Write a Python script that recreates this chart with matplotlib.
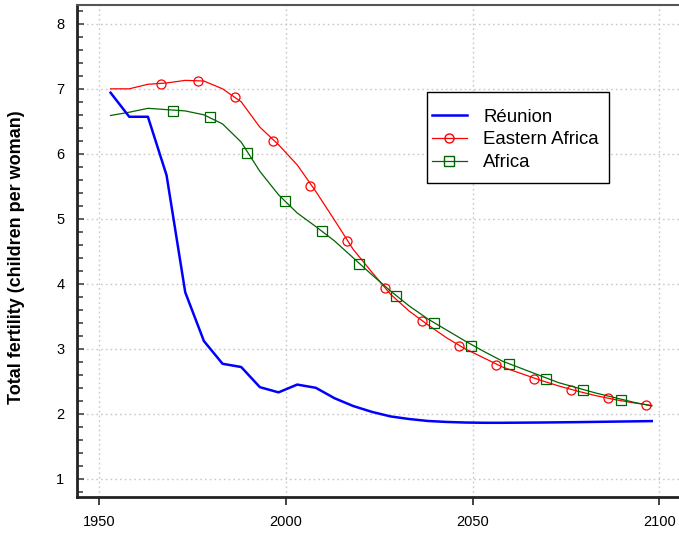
import matplotlib
matplotlib.use('Agg')
import matplotlib.pyplot as plt
from matplotlib.lines import Line2D
from matplotlib.patches import Rectangle
from matplotlib.ticker import MultipleLocator

plt.rcParams['font.family'] = ['Liberation Sans', 'DejaVu Sans']

# 5-year period midpoints
years = [1953, 1958, 1963, 1968, 1973, 1978, 1983, 1988, 1993, 1998,
         2003, 2008, 2013, 2018, 2023, 2028, 2033, 2038, 2043, 2048,
         2053, 2058, 2063, 2068, 2073, 2078, 2083, 2088, 2093, 2098]

reunion = [6.94, 6.57, 6.57, 5.67, 3.87, 3.12, 2.77, 2.72, 2.41, 2.33,
           2.45, 2.40, 2.24, 2.12, 2.03, 1.96, 1.92, 1.89, 1.875, 1.866,
           1.862, 1.862, 1.864, 1.866, 1.869, 1.872, 1.876, 1.880, 1.884, 1.888]

eastern_africa = [7.00, 7.00, 7.07, 7.09, 7.13, 7.12, 7.00, 6.80, 6.41, 6.14,
                  5.83, 5.42, 4.98, 4.53, 4.18, 3.84, 3.58, 3.37, 3.17, 3.00,
                  2.86, 2.72, 2.62, 2.52, 2.43, 2.35, 2.28, 2.22, 2.17, 2.13]

africa = [6.59, 6.64, 6.70, 6.68, 6.66, 6.60, 6.46, 6.18, 5.73, 5.37,
          5.09, 4.88, 4.66, 4.40, 4.14, 3.89, 3.66, 3.46, 3.29, 3.12,
          2.96, 2.81, 2.70, 2.59, 2.48, 2.40, 2.32, 2.25, 2.18, 2.12]

# marker positions as drawn in the picture
ea_mark_x = [1966.4, 1976.4, 1986.4, 1996.4, 2006.4, 2016.4, 2026.4, 2036.4,
             2046.4, 2056.4, 2066.4, 2076.4, 2086.4, 2096.4]
ea_mark_y = [7.08, 7.12, 6.88, 6.20, 5.51, 4.66, 3.94, 3.43,
             3.05, 2.75, 2.54, 2.37, 2.24, 2.14]
af_mark_x = [1969.6, 1979.6, 1989.6, 1999.7, 2009.6, 2019.6, 2029.6, 2039.6,
             2049.6, 2059.7, 2069.7, 2079.7, 2089.7]
af_mark_y = [6.66, 6.56, 6.01, 5.27, 4.82, 4.31, 3.81, 3.40,
             3.05, 2.77, 2.54, 2.36, 2.22]

fig = plt.figure(figsize=(6.79, 5.35), dpi=100)
ax = fig.add_axes([0.1134, 0.071, 0.8866, 0.9197])

ax.plot(years, eastern_africa, color='red', lw=0.9)
ax.plot(ea_mark_x, ea_mark_y, ls='none', marker='o', ms=6.5, mfc='none',
        mec='red', mew=0.9)
ax.plot(years, africa, color='#006400', lw=0.9)
ax.plot(af_mark_x, af_mark_y, ls='none', marker='s', ms=6.5, mfc='none',
        mec='#006400', mew=0.9)
ax.plot(years, reunion, color='blue', lw=1.8)

ax.set_xlim(1944.0, 2105.3)
ax.set_ylim(0.72, 8.29)
ax.set_xticks([1950, 2000, 2050, 2100])
ax.yaxis.set_major_locator(MultipleLocator(1))
ax.yaxis.set_minor_locator(MultipleLocator(0.2))

ax.grid(True, which='major', color='#c8c8c8', linestyle=(0, (1.2, 2.2)), lw=1.0)
ax.tick_params(axis='x', direction='out', length=6, width=1.2, pad=7,
               labelsize=10.5, color='#222222')
ax.tick_params(axis='y', which='major', direction='in', length=5, width=1.2,
               pad=9, labelsize=10.5, color='#444444')
ax.tick_params(axis='y', which='minor', direction='in', length=4, width=1.2,
               color='#444444')

for s in ['left', 'bottom']:
    ax.spines[s].set_linewidth(2)
    ax.spines[s].set_color('#222222')
ax.spines['top'].set_linewidth(1.5)
ax.spines['top'].set_color('#555555')
ax.spines['right'].set_visible(False)

ax.set_ylabel('Total fertility (children per woman)', fontsize=13,
              fontweight='bold')
ax.yaxis.set_label_coords(-0.0864, 0.488)

# legend frame drawn separately so the padding can match the original
ax.add_patch(Rectangle((0.582, 0.639), 0.302, 0.1836, transform=ax.transAxes,
                       facecolor='white', edgecolor='black', lw=1.0, zorder=4))
handles = [
    Line2D([], [], color='blue', lw=1.8),
    Line2D([], [], color='red', lw=0.9, marker='o', ms=6.5, mfc='none', mec='red'),
    Line2D([], [], color='#006400', lw=0.9, marker='s', ms=6.5, mfc='none', mec='#006400'),
]
leg = ax.legend(handles, ['Réunion', 'Eastern Africa', 'Africa'],
                loc='upper left', bbox_to_anchor=(0.589, 0.789),
                borderaxespad=0, borderpad=0, fontsize=13.4, frameon=False,
                handlelength=1.91, handletextpad=0.86, labelspacing=0.3)
leg.set_zorder(5)

fig.savefig('out.png', dpi=100)
